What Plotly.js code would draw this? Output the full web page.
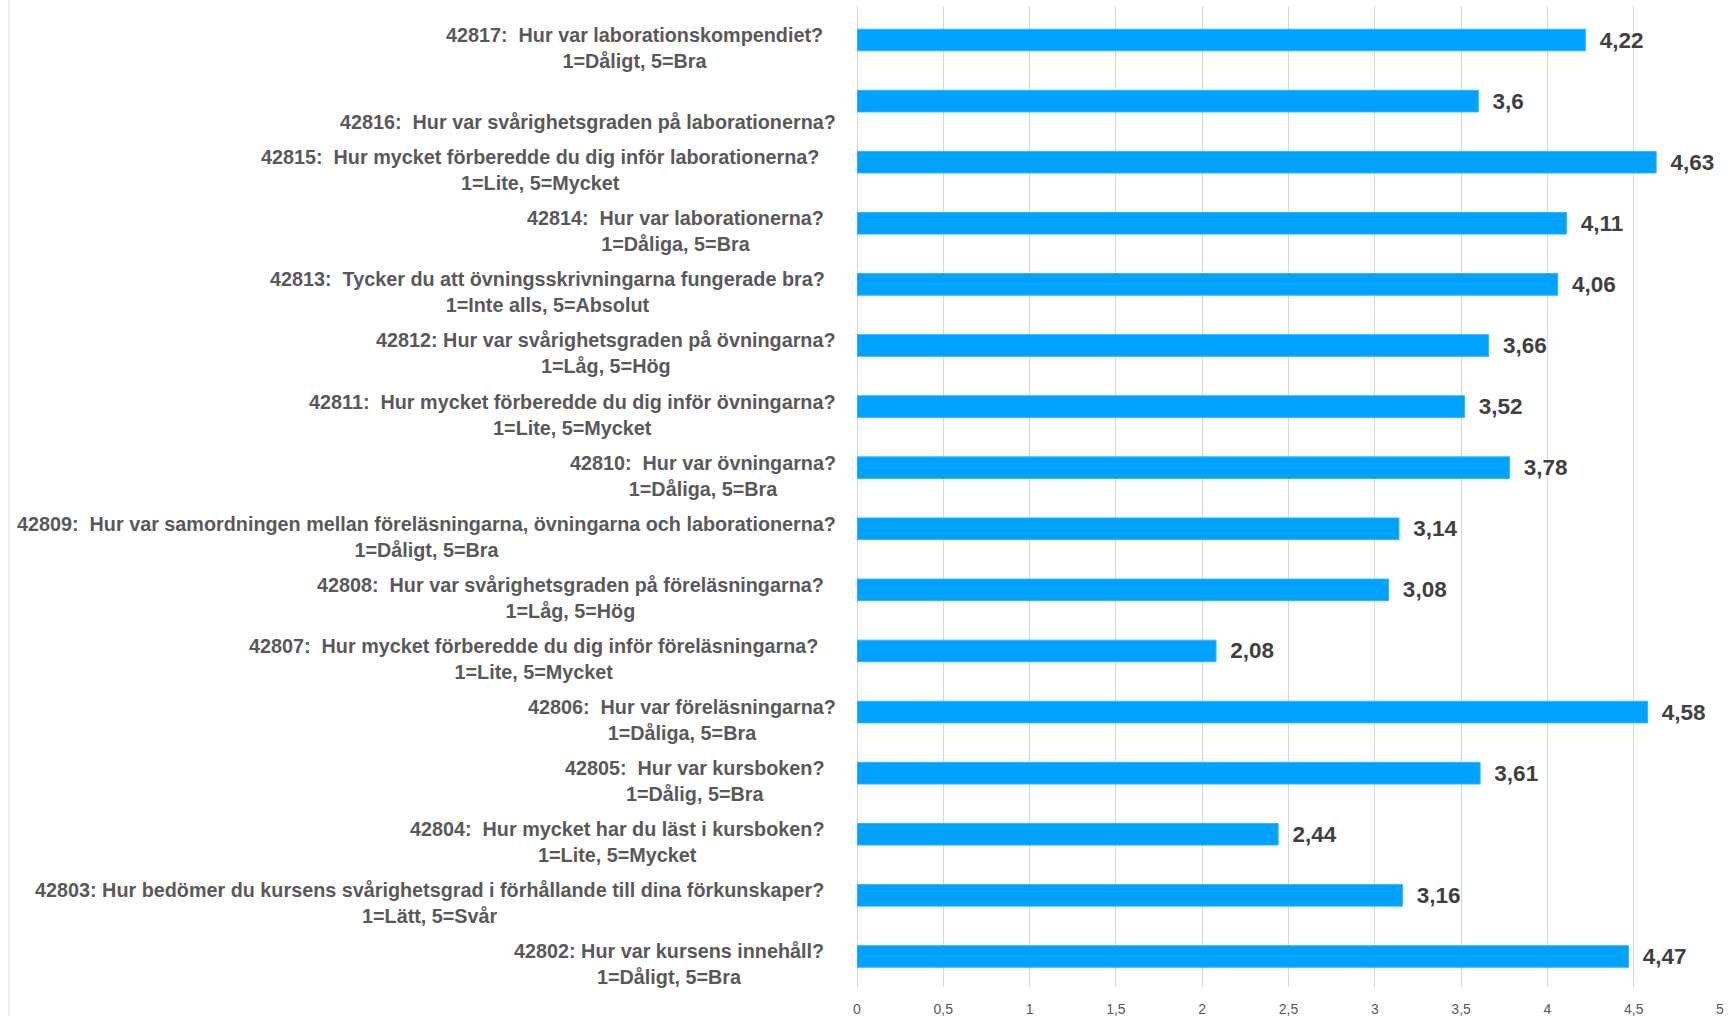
<!DOCTYPE html>
<html>
<head>
<meta charset="utf-8">
<script src="https://cdn.plot.ly/plotly-3.0.1.min.js"></script>
<style>
html,body{margin:0;padding:0;background:#fff;}
#chart{width:1735px;height:1016px;}
</style>
</head>
<body>
<div id="chart"></div>
<script>
// Categories, top to bottom
const questions = [
  "42817:  Hur var laborationskompendiet?",
  "42816:  Hur var svårighetsgraden på laborationerna?",
  "42815:  Hur mycket förberedde du dig inför laborationerna?",
  "42814:  Hur var laborationerna?",
  "42813:  Tycker du att övningsskrivningarna fungerade bra?",
  "42812: Hur var svårighetsgraden på övningarna?",
  "42811:  Hur mycket förberedde du dig inför övningarna?",
  "42810:  Hur var övningarna?",
  "42809:  Hur var samordningen mellan föreläsningarna, övningarna och laborationerna?",
  "42808:  Hur var svårighetsgraden på föreläsningarna?",
  "42807:  Hur mycket förberedde du dig inför föreläsningarna?",
  "42806:  Hur var föreläsningarna?",
  "42805:  Hur var kursboken?",
  "42804:  Hur mycket har du läst i kursboken?",
  "42803: Hur bedömer du kursens svårighetsgrad i förhållande till dina förkunskaper?",
  "42802: Hur var kursens innehåll?"
];
const scales = [
  "1=Dåligt, 5=Bra",
  "",
  "1=Lite, 5=Mycket",
  "1=Dåliga, 5=Bra",
  "1=Inte alls, 5=Absolut",
  "1=Låg, 5=Hög",
  "1=Lite, 5=Mycket",
  "1=Dåliga, 5=Bra",
  "1=Dåligt, 5=Bra",
  "1=Låg, 5=Hög",
  "1=Lite, 5=Mycket",
  "1=Dåliga, 5=Bra",
  "1=Dålig, 5=Bra",
  "1=Lite, 5=Mycket",
  "1=Lätt, 5=Svår",
  "1=Dåligt, 5=Bra"
];
const values = [4.22, 3.6, 4.63, 4.11, 4.06, 3.66, 3.52, 3.78, 3.14, 3.08, 2.08, 4.58, 3.61, 2.44, 3.16, 4.47];
const xTickVals = [0, 0.5, 1, 1.5, 2, 2.5, 3, 3.5, 4, 4.5, 5];
const xTickText = ["0", "0,5", "1", "1,5", "2", "2,5", "3", "3,5", "4", "4,5", "5"];

// layout-only: extra right padding of each label (px)
const labelPad = [13, 0, 17, 12, 11, 0, 0, 0, 0, 12, 18, 0, 12, 12, 12, 12];

const valueText = values.map(v => String(v).replace('.', ','));

const trace = {
  type: 'bar',
  orientation: 'h',
  x: values,
  y: questions,
  marker: {color: '#00A2FF', line: {color: '#33B5FF', width: 1}},
  text: valueText,
  texttemplate: '\u2002%{text}',
  textposition: 'outside',
  constraintext: 'none',
  cliponaxis: false,
  textfont: {family: 'Liberation Sans, Arial, sans-serif', size: 22.5, color: '#404040', weight: 'bold'},
  hoverinfo: 'skip'
};

const annotations = questions.map((q, i) => {
  const txt = scales[i] ? q + '<br>' + scales[i] : '&nbsp;<br>' + q;
  return {
    xref: 'paper', yref: 'y', x: 0, y: q,
    xanchor: 'right', yanchor: 'middle', align: 'center',
    xshift: -19 - labelPad[i], yshift: -8,
    text: txt, showarrow: false,
    font: {family: 'Liberation Sans, Arial, sans-serif', size: 19.8, color: '#595959', weight: 'bold'}
  };
});

const layout = {
  width: 1735, height: 1016,
  margin: {l: 857, r: 15, t: 6, b: 28.5},
  paper_bgcolor: '#ffffff', plot_bgcolor: '#ffffff',
  separators: ', ',
  showlegend: false,
  bargap: 0.646,
  xaxis: {
    range: [0, 5], tickvals: xTickVals, ticktext: xTickText,
    showgrid: true, gridcolor: '#d9d9d9', gridwidth: 1,
    zeroline: true, zerolinecolor: '#d9d9d9', zerolinewidth: 1,
    showline: false,
    ticks: 'outside', ticklen: 9, tickcolor: 'rgba(0,0,0,0)',
    tickfont: {family: 'Liberation Sans, Arial, sans-serif', size: 14, color: '#595959'},
    fixedrange: true
  },
  yaxis: {
    type: 'category',
    autorange: 'reversed',
    showticklabels: false, showgrid: false, zeroline: false, showline: false,
    fixedrange: true
  },
  annotations: annotations,
  shapes: [{
    type: 'line', xref: 'paper', yref: 'paper',
    x0: -0.9826, x1: -0.9826, y0: -0.03, y1: 1.006,
    line: {color: '#d9d9d9', width: 1}
  }]
};

Plotly.newPlot('chart', [trace], layout, {displayModeBar: false, staticPlot: true});
</script>
</body>
</html>
